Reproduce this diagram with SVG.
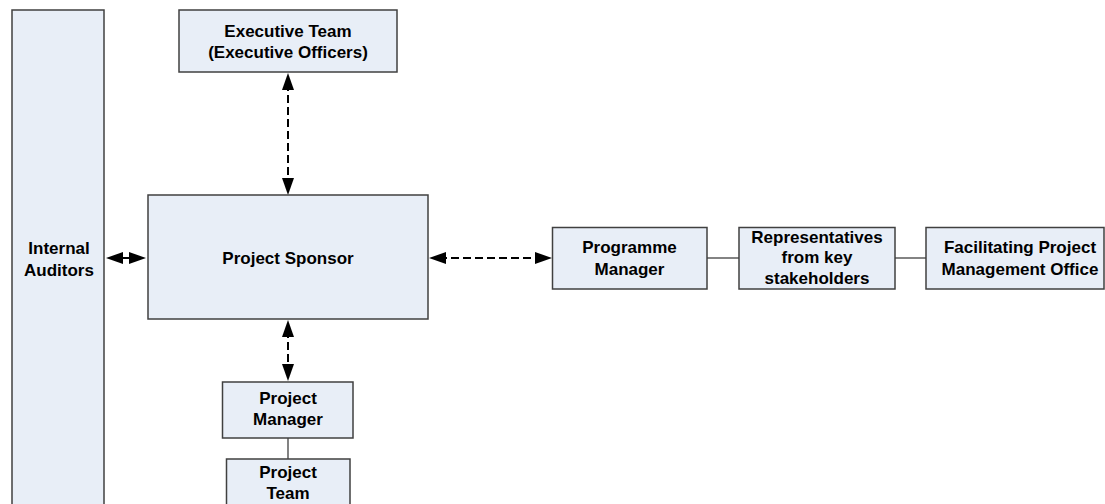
<svg xmlns="http://www.w3.org/2000/svg" width="1105" height="504" viewBox="0 0 1105 504">
  <style>
    .box { fill: #E8EEF7; stroke: #404040; stroke-width: 1.5; }
    .lbl { font-family: "Liberation Sans", Arial, sans-serif; font-weight: bold; font-size: 17px; fill: #000; text-anchor: middle; }
    .dash { stroke: #000; stroke-width: 2; stroke-dasharray: 8 4; fill: none; }
    .solidarrow { stroke: #000; stroke-width: 2; fill: none; }
    .link { stroke: #404040; stroke-width: 1.3; fill: none; }
  </style>
  <defs>
    <marker id="head" viewBox="0 0 17 12" refX="7" refY="6" markerWidth="17" markerHeight="12" markerUnits="userSpaceOnUse" orient="auto-start-reverse">
      <path d="M0,0 L17,6 L0,12 Z" fill="#000"/>
    </marker>
  </defs>

  <rect width="1105" height="504" fill="#fff"/>

  <!-- connectors -->
  <g id="connectors">
    <!-- Executive Team <-> Project Sponsor -->
    <line class="dash" x1="288" y1="83" x2="288" y2="185" marker-start="url(#head)" marker-end="url(#head)"/>
    <!-- Internal Auditors <-> Project Sponsor -->
    <line class="solidarrow" x1="116" y1="258" x2="136" y2="258" marker-start="url(#head)" marker-end="url(#head)"/>
    <!-- Project Sponsor <-> Programme Manager -->
    <line class="dash" x1="439" y1="258" x2="542" y2="258" marker-start="url(#head)" marker-end="url(#head)"/>
    <!-- Project Sponsor <-> Project Manager -->
    <line class="dash" x1="288" y1="330" x2="288" y2="371" marker-start="url(#head)" marker-end="url(#head)"/>
    <!-- plain links -->
    <line class="link" x1="707" y1="258" x2="739" y2="258"/>
    <line class="link" x1="895" y1="258" x2="926" y2="258"/>
    <line class="link" x1="288" y1="438" x2="288" y2="459"/>
  </g>

  <g id="internal-auditors">
    <rect class="box" x="12" y="10" width="92" height="510"/>
    <text class="lbl" x="59" y="254">Internal</text>
    <text class="lbl" x="59" y="275.5">Auditors</text>
  </g>

  <g id="executive-team">
    <rect class="box" x="179" y="10" width="218" height="62"/>
    <text class="lbl" x="288" y="36.5">Executive Team</text>
    <text class="lbl" x="288" y="58">(Executive Officers)</text>
  </g>

  <g id="project-sponsor">
    <rect class="box" x="148" y="195" width="280" height="124"/>
    <text class="lbl" x="288" y="263.5">Project Sponsor</text>
  </g>

  <g id="programme-manager">
    <rect class="box" x="552.5" y="227.5" width="154.5" height="61.5"/>
    <text class="lbl" x="629.5" y="253">Programme</text>
    <text class="lbl" x="629.5" y="274.5">Manager</text>
  </g>

  <g id="representatives">
    <rect class="box" x="739" y="227.5" width="156" height="61.5"/>
    <text class="lbl" x="817" y="242.5">Representatives</text>
    <text class="lbl" x="817" y="263">from key</text>
    <text class="lbl" x="817" y="283.5">stakeholders</text>
  </g>

  <g id="pmo">
    <rect class="box" x="926" y="227.5" width="178" height="61.5"/>
    <text class="lbl" x="1020" y="253">Facilitating Project</text>
    <text class="lbl" x="1020" y="274.5">Management Office</text>
  </g>

  <g id="project-manager">
    <rect class="box" x="222.5" y="382" width="130.5" height="56"/>
    <text class="lbl" x="288" y="403.5">Project</text>
    <text class="lbl" x="288" y="425">Manager</text>
  </g>

  <g id="project-team">
    <rect class="box" x="226.5" y="459" width="123.5" height="60"/>
    <text class="lbl" x="288" y="478">Project</text>
    <text class="lbl" x="288" y="498.5">Team</text>
  </g>
</svg>
